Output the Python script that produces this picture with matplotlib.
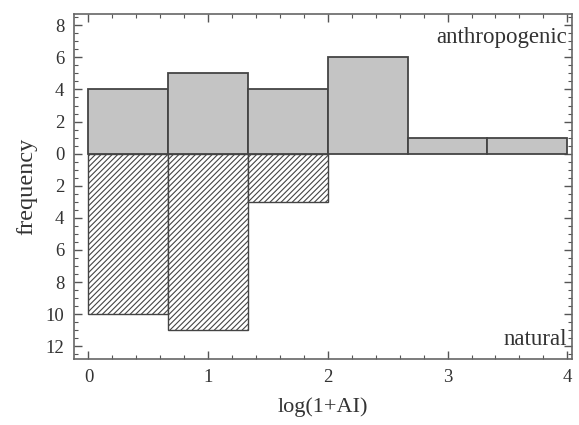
import numpy as np
import matplotlib
matplotlib.use("Agg")
import matplotlib.pyplot as plt
from matplotlib.ticker import MultipleLocator, FuncFormatter

plt.rcParams['font.family'] = ['Liberation Serif', 'DejaVu Serif']
plt.rcParams['hatch.color'] = '#666666'
plt.rcParams['hatch.linewidth'] = 0.8

# histogram bins over log(1+AI)
bin_edges = [0, 2/3, 4/3, 2, 8/3, 10/3, 4]
anthropogenic = [4, 5, 4, 6, 1, 1]
natural = [10, 11, 3, 0, 0, 0]

fig = plt.figure(figsize=(5.79, 4.25), dpi=100)
ax = fig.add_axes([0.128, 0.155, 0.86, 0.812])

left = np.array(bin_edges[:-1])
width = np.diff(bin_edges)

ax.bar(left, anthropogenic, width=width, align='edge', color='#c4c4c4',
       edgecolor='#444444', linewidth=1.3, zorder=2)
nat = np.array(natural)
mask = nat > 0
ax.bar(left[mask], -nat[mask], width=width[mask], align='edge', color='white',
       edgecolor='#444444', linewidth=1.0, hatch='//////', zorder=2)

ax.set_xlim(-0.12, 4.04)
ax.set_ylim(-12.8, 8.7)

ax.xaxis.set_major_locator(MultipleLocator(1))
ax.xaxis.set_minor_locator(MultipleLocator(0.2))
ax.yaxis.set_major_locator(MultipleLocator(2))
ax.yaxis.set_minor_locator(MultipleLocator(0.5))
ax.yaxis.set_major_formatter(FuncFormatter(lambda v, p: f"{abs(int(round(v)))}"))

ax.tick_params(which='both', direction='in', top=True, right=True,
               color='#555555', labelsize=13.5, labelcolor='#333333')
ax.tick_params(which='major', length=6, width=1.0, pad=7)
ax.tick_params(which='minor', length=3, width=0.8)
for s in ax.spines.values():
    s.set_color('#666666')
    s.set_linewidth(1.2)

ax.set_xlabel('log(1+AI)', fontsize=16, labelpad=8, color='#333333')
ax.set_ylabel('frequency', fontsize=17.5, labelpad=6, color='#333333')

ax.text(0.99, 0.962, 'anthropogenic', transform=ax.transAxes,
        ha='right', va='top', fontsize=16.5, color='#333333')
ax.text(0.99, 0.025, 'natural', transform=ax.transAxes,
        ha='right', va='bottom', fontsize=16.5, color='#333333')

fig.savefig('out.png', dpi=100)
